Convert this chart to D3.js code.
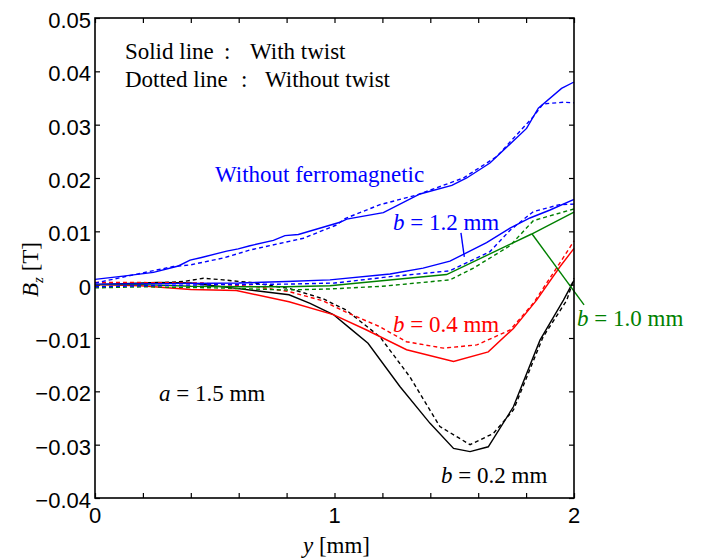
<!DOCTYPE html>
<html>
<head>
<meta charset="utf-8">
<script src="https://cdn.jsdelivr.net/npm/d3@7"></script>
<style>
body { margin: 0; background: #fff; }
svg { display: block; }
</style>
</head>
<body>
<div id="chart"></div>
<script>
// 数据：[y (mm), Bz (T)]
var nofeSolid = [[0, 0.001], [0.118, 0.0016], [0.244, 0.0023], [0.348, 0.0035], [0.397, 0.0046], [0.445, 0.0051],
	[0.55, 0.0063], [0.598, 0.0067], [0.647, 0.0073], [0.745, 0.0083], [0.793, 0.0092], [0.849, 0.0094],
	[1.023, 0.0117], [1.051, 0.0123], [1.204, 0.0135], [1.357, 0.017], [1.49, 0.0186], [1.552, 0.02],
	[1.649, 0.0228], [1.802, 0.0293], [1.851, 0.0331], [1.948, 0.0368], [2.0, 0.038]];
var nofeDash = [[0, 0.0003], [0.063, 0.0009], [0.188, 0.0021], [0.327, 0.0034], [0.397, 0.0037], [0.536, 0.005],
	[0.647, 0.0065], [0.758, 0.0076], [0.87, 0.0087], [1.009, 0.0112], [1.044, 0.0124], [1.19, 0.015],
	[1.343, 0.0168], [1.538, 0.02], [1.677, 0.024], [1.83, 0.0315], [1.871, 0.0339], [1.956, 0.0342], [2.0, 0.0341]];
var b12Solid = [[0, 0.0001], [0.3, 0.0002], [0.6, 0.0003], [0.8, 0.0006], [0.981, 0.0009], [1.232, 0.002],
	[1.37, 0.0031], [1.482, 0.0044], [1.635, 0.0079], [1.733, 0.0106], [1.816, 0.0125], [1.9, 0.014], [2.0, 0.016]];
var b12Dash = [[0, -0.0004], [0.2, -0.0002], [0.5, 0], [0.8, 0.0001], [1.0, 0.0003], [1.232, 0.0015],
	[1.482, 0.0026], [1.649, 0.0062], [1.733, 0.0102], [1.83, 0.0137], [1.94, 0.015], [2.0, 0.0151]];
var b10Solid = [[0, 0], [0.2, 0], [0.4, -0.0003], [0.6, -0.0004], [0.8, -0.0004], [0.981, -0.0002],
	[1.468, 0.0019], [1.823, 0.0095], [2.0, 0.0136]];
var b10Dash = [[0, -0.0006], [0.2, -0.0004], [0.5, -0.0006], [0.8, -0.001], [0.981, -0.0008], [1.2, -0.0003],
	[1.482, 0.0009], [1.58, 0.0031], [1.733, 0.0073], [1.83, 0.012], [1.93, 0.0133], [2.0, 0.0142]];
var b04Solid = [[0, 0], [0.19, -0.0002], [0.4, -0.0009], [0.59, -0.0011], [0.81, -0.0032], [0.995, -0.0056],
	[1.134, -0.0085], [1.301, -0.0122], [1.497, -0.0144], [1.642, -0.0126], [1.747, -0.0082],
	[1.844, -0.0029], [1.942, 0.0034], [2.0, 0.0068]];
var b04Dash = [[0, 0.0004], [0.2, 0.0004], [0.45, 0.0003], [0.675, -0.0004], [0.81, -0.0013], [0.95, -0.003],
	[1.05, -0.0052], [1.19, -0.0079], [1.3, -0.0107], [1.455, -0.0119], [1.594, -0.0113], [1.733, -0.0085],
	[1.83, -0.0035], [1.94, 0.004], [2.0, 0.0082]];
var b02Solid = [[0, 0], [0.26, 0.0004], [0.4, 0.0003], [0.59, -0.0007], [0.81, -0.0019], [0.898, -0.0035],
	[0.995, -0.0056], [1.065, -0.0082], [1.14, -0.011], [1.273, -0.0191], [1.399, -0.026], [1.497, -0.0307],
	[1.566, -0.0313], [1.642, -0.0304], [1.747, -0.0229], [1.858, -0.0104], [1.956, -0.0029], [2.0, 0.0008]];
var b02Dash = [[0, 0], [0.2, 0.0002], [0.37, 0.0006], [0.452, 0.0012], [0.535, 0.0009], [0.65, 0.0004],
	[0.81, -0.0007], [0.95, -0.0026], [1.05, -0.0048], [1.19, -0.0098], [1.315, -0.0173], [1.44, -0.0266],
	[1.566, -0.03], [1.663, -0.0279], [1.747, -0.0235], [1.871, -0.0098], [1.97, -0.0029], [2.0, 0.0012]];

var xTicks = [0, 0.2, 0.4, 0.6, 0.8, 1, 1.2, 1.4, 1.6, 1.8, 2];
var xTickLabels = [0, 1, 2];
var yTicks = [-0.04, -0.03, -0.02, -0.01, 0, 0.01, 0.02, 0.03, 0.04, 0.05];

var width = 701, height = 558;
var margin = { left: 95, top: 18, right: 127, bottom: 60 };
var plotW = width - margin.left - margin.right; // 479
var plotH = height - margin.top - margin.bottom; // 480

var serif = "'Liberation Serif', 'Times New Roman', serif";
var sans = "'Liberation Sans', Arial, sans-serif";

var svg = d3.select("#chart").append("svg").attr("width", width).attr("height", height);
// 右边 "b = 1.0 mm" 在原图被截断
svg.append("clipPath").attr("id", "page").append("rect").attr("width", 685).attr("height", height);
var root = svg.append("g").attr("clip-path", "url(#page)");
var g = root.append("g").attr("transform", "translate(" + margin.left + "," + margin.top + ")");

var x = d3.scaleLinear().domain([0, 2]).range([0, plotW]);
var y = d3.scaleLinear().domain([-0.04, 0.05]).range([plotH, 0]);

// 刻度线（朝内）
g.append("g").attr("transform", "translate(0," + plotH + ")")
	.call(d3.axisBottom(x).tickValues(xTicks).tickSize(-5).tickFormat(""));
g.append("g")
	.call(d3.axisTop(x).tickValues(xTicks).tickSize(-5).tickFormat(""));
g.append("g")
	.call(d3.axisLeft(y).tickValues(yTicks).tickSize(-5).tickFormat(""));
g.append("g").attr("transform", "translate(" + plotW + ",0)")
	.call(d3.axisRight(y).tickValues(yTicks).tickSize(-5).tickFormat(""));
g.selectAll(".domain").remove();
g.selectAll(".tick line").attr("stroke", "#000").attr("stroke-width", 1.2);

// 刻度文字
g.selectAll(".xlab").data(xTickLabels).enter().append("text")
	.attr("x", function(d) { return x(d); }).attr("y", plotH + 25)
	.attr("text-anchor", "middle").style("font-family", sans).style("font-size", "22px")
	.text(function(d) { return d; });
g.selectAll(".ylab").data(yTicks).enter().append("text")
	.attr("x", -4).attr("y", function(d) { return y(d) + 10; })
	.attr("text-anchor", "end").style("font-family", sans).style("font-size", "22px")
	.text(function(d) { return d === 0 ? "0" : d3.format(".2f")(d); });

// 曲线
var line = d3.line().x(function(d) { return x(d[0]); }).y(function(d) { return y(d[1]); });
var series = [
	{ data: b02Solid, color: "#000000", dash: null },
	{ data: b02Dash, color: "#000000", dash: "4,3" },
	{ data: b04Solid, color: "#ff0000", dash: null },
	{ data: b04Dash, color: "#ff0000", dash: "4,3" },
	{ data: b10Solid, color: "#008000", dash: null },
	{ data: b10Dash, color: "#008000", dash: "4,3" },
	{ data: b12Solid, color: "#0000ff", dash: null },
	{ data: b12Dash, color: "#0000ff", dash: "4,3" },
	{ data: nofeSolid, color: "#0000ff", dash: null },
	{ data: nofeDash, color: "#0000ff", dash: "4,3" }
];
g.selectAll(".curve").data(series).enter().append("path")
	.attr("d", function(d) { return line(d.data); })
	.attr("fill", "none").attr("stroke", function(d) { return d.color; })
	.attr("stroke-width", 1.4)
	.attr("stroke-dasharray", function(d) { return d.dash; });

// 引线
var leaders = [
	{ from: [1.528, 0.0097], to: [1.542, 0.0052], color: "#0000ff" },
	{ from: [1.825, 0.0095], to: [2.042, -0.0038], color: "#008000" }
];
g.selectAll(".leader").data(leaders).enter().append("line")
	.attr("x1", function(d) { return x(d.from[0]); }).attr("y1", function(d) { return y(d.from[1]); })
	.attr("x2", function(d) { return x(d.to[0]); }).attr("y2", function(d) { return y(d.to[1]); })
	.attr("stroke", function(d) { return d.color; }).attr("stroke-width", 1.4);

// 边框
g.append("rect").attr("width", plotW).attr("height", plotH)
	.attr("fill", "none").attr("stroke", "#000").attr("stroke-width", 1.6);

// 注释文字
function label(px, py, color, parts) {
	var t = g.append("text").attr("x", x(px)).attr("y", y(py)).attr("fill", color)
		.style("font-family", serif).style("font-size", "23px");
	parts.forEach(function(p) {
		t.append("tspan").style("font-style", p[1] ? "italic" : "normal").text(p[0]);
	});
	return t;
}
label(0.125, 0.0423, "#000", [["Solid line", 0]]);
label(0.539, 0.0423, "#000", [[":", 0]]);
label(0.647, 0.0423, "#000", [["With twist", 0]]);
label(0.125, 0.0371, "#000", [["Dotted line", 0]]);
label(0.61, 0.0371, "#000", [[":", 0]]);
label(0.71, 0.0371, "#000", [["Without twist", 0]]);
label(0.501, 0.0193, "#0000ff", [["Without ferromagnetic", 0]]);
label(1.244, 0.0103, "#0000ff", [["b", 1], [" = 1.2 mm", 0]]);
label(1.244, -0.0088, "#ff0000", [["b", 1], [" = 0.4 mm", 0]]);
label(2.013, -0.0077, "#008000", [["b", 1], [" = 1.0 mm", 0]]);
label(1.445, -0.0372, "#000", [["b", 1], [" = 0.2 mm", 0]]);
label(0.267, -0.0219, "#000", [["a", 1], [" = 1.5 mm", 0]]);

// 坐标轴标题
var xTitle = root.append("text").attr("x", margin.left + plotW / 2 + 2).attr("y", 553)
	.attr("text-anchor", "middle").style("font-family", serif).style("font-size", "23px");
xTitle.append("tspan").style("font-style", "italic").text("y");
xTitle.append("tspan").text(" [mm]");

var yTitle = root.append("text").attr("transform", "translate(38,297) rotate(-90)")
	.style("font-family", serif).style("font-size", "23px");
yTitle.append("tspan").style("font-style", "italic").text("B");
yTitle.append("tspan").style("font-style", "italic").style("font-size", "15px").attr("dy", 5).text("z");
yTitle.append("tspan").attr("dy", -5).text(" [T]");
</script>
</body>
</html>
